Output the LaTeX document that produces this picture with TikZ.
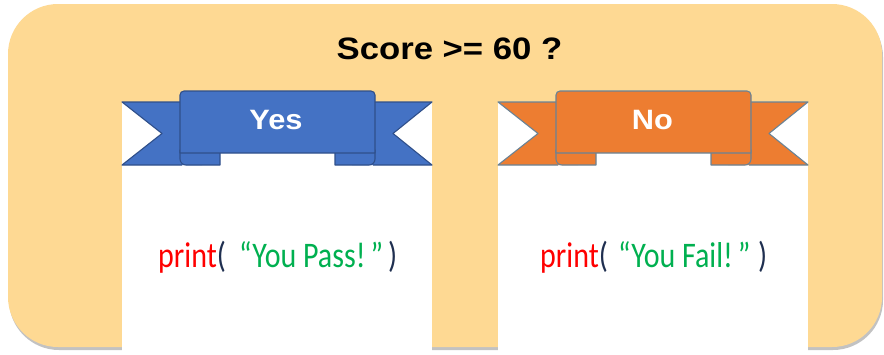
\documentclass[tikz,border=0pt]{standalone}
\usepackage{fontspec}
\setmainfont{Liberation Sans}
\newfontfamily\codefont{Carlito}
\definecolor{panelbg}{HTML}{FED993}
\definecolor{shadowgrey}{HTML}{9A9A9A}
\definecolor{yesfill}{HTML}{4472C4}
\definecolor{yesedge}{HTML}{2F4F8A}
\definecolor{nofill}{HTML}{ED7D31}
\definecolor{noedge}{HTML}{6A8396}
\definecolor{kwred}{HTML}{FF0000}
\definecolor{strgreen}{HTML}{00B050}
\definecolor{parendark}{HTML}{1F2F50}

% banner: #1 = left x of the card, #2 = fill colour, #3 = edge colour
\newcommand\drawbanner[3]{%
  \begin{scope}[shift={(#1,0)}, line width=1.1pt, draw=#3, fill=#2, line join=round]
    % swallow-tail ends (filled, then only their outer edges stroked)
    \fill (0,102) -- (80,102) -- (80,165) -- (0,165) -- (40,133.5) -- cycle;
    \draw (58,102) -- (0,102) -- (40,133.5) -- (0,165) -- (60,165);
    \fill (310,102) -- (230,102) -- (230,165) -- (310,165) -- (271,133.5) -- cycle;
    \draw (253,102) -- (310,102) -- (271,133.5) -- (310,165) -- (251,165);
    % folds tucked under the band
    \filldraw (58,150) -- (58,159) to[out=-90,in=180] (64,165) -- (98,165) -- (98,150) -- cycle;
    \filldraw (253,150) -- (253,159) to[out=-90,in=0] (247,165) -- (213,165) -- (213,150) -- cycle;
    % main band
    \filldraw[rounded corners=4pt] (58,153) -- (58,91) -- (253,91) [sharp corners] -- (253,153) -- cycle;
  \end{scope}}

\begin{document}
\begin{tikzpicture}[x=1pt,y=-1pt,
    titletext/.style={font=\fontsize{31}{31}\selectfont\bfseries, text=black, xscale=1.12, inner sep=0pt, anchor=base},
    bannertext/.style={font=\fontsize{28}{28}\selectfont\bfseries, text=white, xscale=1.1, inner sep=0pt, anchor=base},
    codetext/.style={font=\codefont\fontsize{30}{30}\selectfont, yscale=1.2, inner sep=0pt, anchor=base west},
    card/.style={fill=white, draw=none}]
  \useasboundingbox (0,0) rectangle (884,354);

  % rounded backdrop with a soft drop shadow
  \fill[shadowgrey!60, rounded corners=50pt] (9,7) rectangle (883,350);
  \fill[panelbg, rounded corners=50pt] (8,4) rectangle (882,347);

  \node[titletext] (question) at (449.5,59) {Score >= 60 ?};

  % white cards
  \fill[card] (122,102) rectangle (432,354);
  \fill[card] (498,102) rectangle (808,354);

  % banners
  \drawbanner{122}{yesfill}{yesedge}
  \drawbanner{498}{nofill}{noedge}

  \node[bannertext] (yes) at (276,129.5) {Yes};
  \node[bannertext] (no) at (652.5,129.5) {No};

  % print statements
  \node[codetext, text=kwred] (passkw) at (158,267) {print\textcolor{parendark}{(}};
  \node[codetext, text=strgreen] (passstr) at (239,267) {“You Pass!\,”};
  \node[codetext, text=parendark] (passend) at (388,267) {)};

  \node[codetext, text=kwred] (failkw) at (540,267) {print\textcolor{parendark}{(}};
  \node[codetext, text=strgreen] (failstr) at (618,267) {“You Fail!\,”};
  \node[codetext, text=parendark] (failend) at (758,267) {)};
\end{tikzpicture}
\end{document}
